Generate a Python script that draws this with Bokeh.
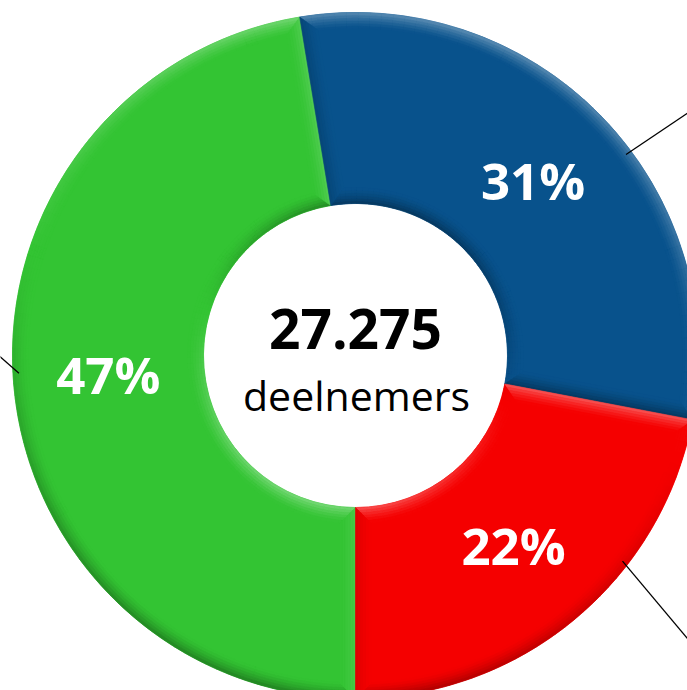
import numpy as np
from bokeh.plotting import figure
from bokeh.models import ColumnDataSource
from bokeh.core.properties import value
from bokeh.embed import file_html
from bokeh.resources import INLINE

# ---------------- data ----------------
segments = ["groen", "blauw", "rood"]
shares = [47.4, 30.6, 22.0]           # percent of participants
seg_colors = ["#33C433", "#08528C", "#F50000"]
total_text = "27.275"
total_sub = "deelnemers"

# ---------------- layout ----------------
W, H = 687, 690
CX, CY = 355, 335
R_OUT, R_IN = 343, 152
BEV, NB = 16, 6
LABEL_R = 248
LIGHT = np.array([0.3, 0.95]); LIGHT = LIGHT / np.linalg.norm(LIGHT)
STRENGTH = 0.34
# leader lines (anchor angle clockwise from top, direction of line in degrees)
leader_anchor = [267.0, 53.4, 127.6]
leader_dir = [139.0, 34.0, -50.0]
LEADER_R = 337

def mix(hexc, s):
    c = [int(hexc[i:i + 2], 16) for i in (1, 3, 5)]
    if s >= 0:
        c = [v + (255 - v) * s for v in c]
    else:
        c = [v * (1 + s) for v in c]
    return "#%02x%02x%02x" % tuple(int(round(min(255, max(0, v)))) for v in c)

def cw_to_rad(a):
    return np.deg2rad(90.0 - a)

p = figure(width=W, height=H, x_range=(0, W), y_range=(0, H),
           x_axis_type=None, y_axis_type=None, min_border=0,
           toolbar_location=None, output_backend="svg",
           background_fill_color="white", border_fill_color="white")
p.outline_line_color = None
p.grid.visible = False

cum = np.concatenate([[0], np.cumsum(shares)]) / np.sum(shares) * 360.0
bounds = [(180 + cum[i], 180 + cum[i + 1]) for i in range(len(shares))]

# base slices
base = dict(x=[], y=[], ir=[], orr=[], sa=[], ea=[], c=[])
for (a0, a1), col in zip(bounds, seg_colors):
    base["x"].append(CX); base["y"].append(CY)
    base["ir"].append(R_IN); base["orr"].append(R_OUT)
    base["sa"].append(cw_to_rad(a1)); base["ea"].append(cw_to_rad(a0))
    base["c"].append(col)
p.annular_wedge(x="x", y="y", inner_radius="ir", outer_radius="orr",
                start_angle="sa", end_angle="ea", fill_color="c",
                line_color="c", line_width=0.5, source=ColumnDataSource(base))

# ring bevels (outer and inner)
ring = dict(x=[], y=[], ir=[], orr=[], sa=[], ea=[], c=[])
STEP = 2.0
for (a0, a1), col in zip(bounds, seg_colors):
    n = max(1, int(np.ceil((a1 - a0) / STEP)))
    edges = np.linspace(a0, a1, n + 1)
    for j in range(n):
        s0, s1 = edges[j], edges[j + 1]
        th = cw_to_rad(0.5 * (s0 + s1))
        nout = np.array([np.cos(th), np.sin(th)])
        d_out = float(nout @ LIGHT)
        for k in range(NB):
            prof = ((k + 0.5) / NB) ** 1.5
            r0 = R_OUT - BEV + k * BEV / NB
            ring["x"].append(CX); ring["y"].append(CY)
            ring["ir"].append(r0); ring["orr"].append(r0 + BEV / NB)
            ring["sa"].append(cw_to_rad(s1)); ring["ea"].append(cw_to_rad(s0))
            ring["c"].append(mix(col, STRENGTH * prof * d_out))
            prof_i = (1 - (k + 0.5) / NB) ** 1.5
            r0 = R_IN + k * BEV / NB
            ring["x"].append(CX); ring["y"].append(CY)
            ring["ir"].append(r0); ring["orr"].append(r0 + BEV / NB)
            ring["sa"].append(cw_to_rad(s1)); ring["ea"].append(cw_to_rad(s0))
            ring["c"].append(mix(col, STRENGTH * prof_i * (-d_out)))
p.annular_wedge(x="x", y="y", inner_radius="ir", outer_radius="orr",
                start_angle="sa", end_angle="ea", fill_color="c",
                line_color="c", line_width=0.6, source=ColumnDataSource(ring))

# radial edge bevels (mitred strips)
strips = dict(xs=[], ys=[], c=[])
for (a0, a1), col in zip(bounds, seg_colors):
    for a, side in ((a0, 0), (a1, 1)):
        th = cw_to_rad(a)
        u = np.array([np.cos(th), np.sin(th)])
        if side == 0:
            pv = np.array([np.sin(th), -np.cos(th)])
        else:
            pv = np.array([-np.sin(th), np.cos(th)])
        dl = float((-pv) @ LIGHT)
        for k in range(NB):
            d1, d2 = k * BEV / NB, (k + 1) * BEV / NB
            prof = (1 - (k + 0.5) / NB) ** 1.5
            pts = [(R_IN + d1, d1), (R_OUT - d1, d1), (R_OUT - d2, d2), (R_IN + d2, d2)]
            xs = [CX + r * u[0] + d * pv[0] for r, d in pts]
            ys = [CY + r * u[1] + d * pv[1] for r, d in pts]
            strips["xs"].append(xs); strips["ys"].append(ys)
            strips["c"].append(mix(col, STRENGTH * prof * dl))
p.patches(xs="xs", ys="ys", fill_color="c", line_color="c", line_width=0.6,
          source=ColumnDataSource(strips))

# leader lines
lx0, ly0, lx1, ly1 = [], [], [], []
for aa, dd in zip(leader_anchor, leader_dir):
    th = cw_to_rad(aa)
    x0, y0 = CX + LEADER_R * np.cos(th), CY + LEADER_R * np.sin(th)
    dr = np.deg2rad(dd)
    lx0.append(x0); ly0.append(y0)
    lx1.append(x0 + 200 * np.cos(dr)); ly1.append(y0 + 200 * np.sin(dr))
p.segment(x0=lx0, y0=ly0, x1=lx1, y1=ly1, line_color="black", line_width=1.3)

# percentage labels
PFS = 51
tx, ty, tt = [], [], []
for (a0, a1), v in zip(bounds, shares):
    th = cw_to_rad(0.5 * (a0 + a1))
    tx.append(CX + LABEL_R * np.cos(th))
    ty.append(CY + LABEL_R * np.sin(th) + 2)
    tt.append("%d%%" % int(np.floor(v + 0.5)))
p.text(x=tx, y=ty, text=tt, text_color="white", text_font=value("Open Sans"),
       text_font_style="bold", text_font_size="%dpx" % PFS,
       text_align="center", text_baseline="alphabetic")

# centre texts
p.text(x=[CX], y=[CY + 27], text=[total_text], text_color="black",
       text_font=value("Open Sans"), text_font_style="bold", text_font_size="55px",
       text_align="center", text_baseline="alphabetic")
p.text(x=[CX + 1], y=[CY - 39], text=[total_sub], text_color="black",
       text_font=value("Open Sans"), text_font_size="41px",
       text_align="center", text_baseline="alphabetic")

open("out.html", "w").write(file_html(p, INLINE))
